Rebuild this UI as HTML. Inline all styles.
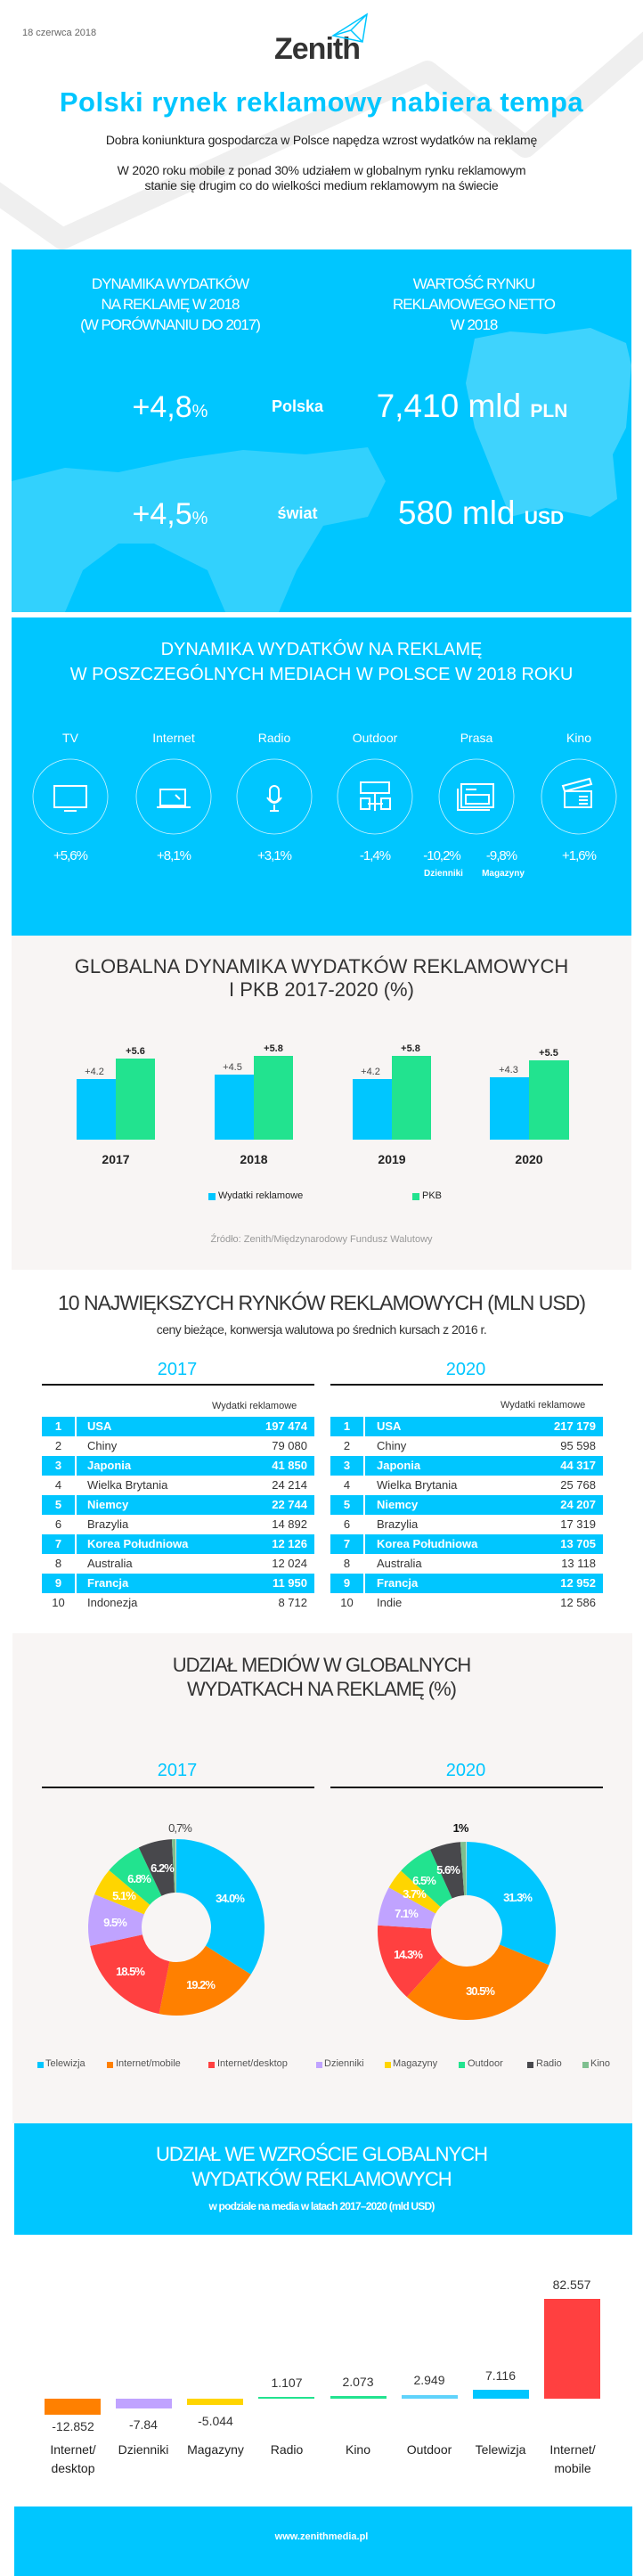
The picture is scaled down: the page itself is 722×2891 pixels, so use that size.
<!DOCTYPE html>
<html><head><meta charset="utf-8"><style>
*{margin:0;padding:0;box-sizing:border-box}
body{width:722px;height:2891px;position:relative;background:#fff;font-family:"Liberation Sans",sans-serif;overflow:hidden}
.a{position:absolute;white-space:nowrap}
.c{transform:translateX(-50%)}
.w{color:#fff}
.row{position:absolute;height:22px;font-size:13px;line-height:22px;color:#333}
.row.h{background:#00c6ff;color:#fff;font-weight:bold}
.row span{position:absolute}
.sep{position:absolute;top:0;width:2px;height:22px;background:#fff}
</style></head><body>

<svg class="a" style="left:0;top:0" width="722" height="290"><polyline points="-10,212 70,268 480,80 590,165 735,40" fill="none" stroke="#efefef" stroke-width="24" stroke-linejoin="round"/></svg>

<div class="a" style="left:25px;top:31px;font-size:11px;color:#666">18 czerwca 2018</div>
<div class="a c" style="left:356px;top:36px;font-size:34px;font-weight:bold;color:#333;letter-spacing:-1px">Zenith</div>
<svg class="a" style="left:372px;top:14px" width="44" height="36"><path d="M2,26 L40,2 L35,33 Z M40,2 L22,20 L35,33 M22,20 L2,26" fill="none" stroke="#00c6ff" stroke-width="1.5"/></svg>

<div class="a c" style="left:361px;top:97px;font-size:31px;font-weight:bold;color:#00c6ff;letter-spacing:0.5px">Polski rynek reklamowy nabiera tempa</div>
<div class="a c" style="left:361px;top:149px;font-size:14px;color:#222;letter-spacing:-0.2px">Dobra koniunktura gospodarcza w Polsce napędza wzrost wydatków na reklamę</div>
<div class="a c" style="left:361px;top:183px;font-size:14px;color:#222;text-align:center;line-height:17px;letter-spacing:-0.2px">W 2020 roku mobile z ponad 30% udziałem w globalnym rynku reklamowym<br>stanie się drugim co do wielkości medium reklamowym na świecie</div>

<!-- panel 1 -->
<div class="a" style="left:13px;top:280px;width:696px;height:407px;background:#00c6ff;overflow:hidden">
<svg width="696" height="407" style="position:absolute;left:0;top:0"><g fill="#3fd3fd">
<path d="M520,100 L560,92 L600,95 L650,88 L690,105 L696,130 L690,200 L675,230 L680,280 L650,300 L600,290 L560,300 L540,250 L520,200 L510,150 Z"/>
<path d="M0,260 L60,245 L120,250 L190,235 L260,225 L330,230 L400,222 L420,260 L400,300 L350,310 L320,360 L300,407 L240,407 L220,360 L160,330 L120,330 L80,360 L60,407 L0,407 Z" opacity="0.8"/>
</g></svg>
</div>
<div class="a c w" style="left:191px;top:307px;font-size:17px;line-height:23px;text-align:center;letter-spacing:-1px">DYNAMIKA WYDATKÓW<br>NA REKLAMĘ W 2018<br>(W PORÓWNANIU DO 2017)</div>
<div class="a c w" style="left:532px;top:307px;font-size:17px;line-height:23px;text-align:center;letter-spacing:-1px">WARTOŚĆ RYNKU<br>REKLAMOWEGO NETTO<br>W 2018</div>
<div class="a c w" style="left:191px;top:438px;font-size:34px">+4,8<span style="font-size:20px">%</span></div>
<div class="a c w" style="left:334px;top:446px;font-size:18px;font-weight:bold">Polska</div>
<div class="a c w" style="left:530px;top:435px;font-size:37px">7,410 mld <span style="font-size:21px;font-weight:bold">PLN</span></div>
<div class="a c w" style="left:191px;top:558px;font-size:34px">+4,5<span style="font-size:20px">%</span></div>
<div class="a c w" style="left:334px;top:566px;font-size:18px;font-weight:bold">świat</div>
<div class="a c w" style="left:540px;top:555px;font-size:37px">580 mld <span style="font-size:21px;font-weight:bold">USD</span></div>

<!-- panel 2 -->
<div class="a" style="left:13px;top:693px;width:696px;height:357px;background:#00c6ff"></div>
<div class="a c w" style="left:361px;top:715px;font-size:20px;line-height:28px;text-align:center">DYNAMIKA WYDATKÓW NA REKLAMĘ<br>W POSZCZEGÓLNYCH MEDIACH W POLSCE W 2018 ROKU</div>
<svg class="a" style="left:0;top:840px" width="722" height="110" fill="none" stroke="#fff">
<g stroke-width="0.8" opacity="0.8"><circle cx="79" cy="54" r="42"/><circle cx="195" cy="54" r="42"/><circle cx="308" cy="54" r="42"/><circle cx="421" cy="54" r="42"/><circle cx="535" cy="54" r="42"/><circle cx="650" cy="54" r="42"/></g>
<g stroke-width="2">
<rect x="61" y="42" width="36" height="24"/><path d="M72,70 h14"/>
<path d="M180,46 h28 v18 h-28 z M176,66 h38"/><path d="M197,52 l5,5"/>
<rect x="303" y="42" width="10" height="18" rx="5"/><path d="M300,55 q8,12 16,0 M308,63 v6 M303,70 h10"/>
<rect x="405" y="38" width="32" height="12"/><path d="M421,50 v20 M405,56 v12 h10 v-12 z M428,56 v12 h10 v-12 z M413,62 h17"/>
<rect x="518" y="40" width="36" height="26"/><path d="M514,45 v24 h36 M523,46 h12 M523,52 h26 v10 h-26 z"/>
<path d="M634,48 h30 v18 h-30 z M632,42 l30,-8 l2,6 l-30,8 z M650,54 h10 M650,58 h10 M650,62 h10"/>
</g></svg>
<div class="a c w" style="left:79px;top:820px;font-size:14px">TV</div>
<div class="a c w" style="left:195px;top:820px;font-size:14px">Internet</div>
<div class="a c w" style="left:308px;top:820px;font-size:14px">Radio</div>
<div class="a c w" style="left:421px;top:820px;font-size:14px">Outdoor</div>
<div class="a c w" style="left:535px;top:820px;font-size:14px">Prasa</div>
<div class="a c w" style="left:650px;top:820px;font-size:14px">Kino</div>
<div class="a c w" style="left:79px;top:952px;font-size:15px;letter-spacing:-1px">+5,6%</div>
<div class="a c w" style="left:195px;top:952px;font-size:15px;letter-spacing:-1px">+8,1%</div>
<div class="a c w" style="left:308px;top:952px;font-size:15px;letter-spacing:-1px">+3,1%</div>
<div class="a c w" style="left:421px;top:952px;font-size:15px;letter-spacing:-1px">-1,4%</div>
<div class="a c w" style="left:496px;top:952px;font-size:15px;letter-spacing:-1px">-10,2%</div>
<div class="a c w" style="left:563px;top:952px;font-size:15px;letter-spacing:-1px">-9,8%</div>
<div class="a c w" style="left:650px;top:952px;font-size:15px;letter-spacing:-1px">+1,6%</div>
<div class="a c w" style="left:498px;top:975px;font-size:10px;font-weight:bold">Dzienniki</div>
<div class="a c w" style="left:565px;top:975px;font-size:10px;font-weight:bold">Magazyny</div>

<!-- gray section bars -->
<div class="a" style="left:13px;top:1050px;width:696px;height:375px;background:#f8f5f4"></div>
<div class="a c" style="left:361px;top:1072px;font-size:22px;line-height:26px;text-align:center;color:#333">GLOBALNA DYNAMIKA WYDATKÓW REKLAMOWYCH<br>I PKB 2017-2020 (%)</div>
<svg class="a" style="left:0;top:1150px" width="722" height="140" font-family="Liberation Sans" font-size="11" text-anchor="middle">
<g fill="#00c6ff"><rect x="86" y="61" width="44" height="68"/><rect x="241" y="56" width="44" height="73"/><rect x="396" y="61" width="44" height="68"/><rect x="550" y="59" width="44" height="70"/></g>
<g fill="#22e38f"><rect x="130" y="38" width="44" height="91"/><rect x="285" y="35" width="44" height="94"/><rect x="440" y="35" width="44" height="94"/><rect x="594" y="40" width="45" height="89"/></g>
<g fill="#444"><text x="106" y="56">+4.2</text><text x="261" y="51">+4.5</text><text x="416" y="56">+4.2</text><text x="571" y="54">+4.3</text></g>
<g fill="#222" font-weight="bold"><text x="152" y="33">+5.6</text><text x="307" y="30">+5.8</text><text x="461" y="30">+5.8</text><text x="616" y="35">+5.5</text></g>
</svg>
<div class="a c" style="left:130px;top:1293px;font-size:14px;font-weight:bold;color:#222">2017</div>
<div class="a c" style="left:285px;top:1293px;font-size:14px;font-weight:bold;color:#222">2018</div>
<div class="a c" style="left:440px;top:1293px;font-size:14px;font-weight:bold;color:#222">2019</div>
<div class="a c" style="left:594px;top:1293px;font-size:14px;font-weight:bold;color:#222">2020</div>
<div class="a" style="left:234px;top:1339px;width:8px;height:8px;background:#00c6ff"></div>
<div class="a" style="left:245px;top:1336px;font-size:11px;color:#222">Wydatki reklamowe</div>
<div class="a" style="left:463px;top:1339px;width:8px;height:8px;background:#22e38f"></div>
<div class="a" style="left:474px;top:1336px;font-size:11px;color:#222">PKB</div>
<div class="a c" style="left:361px;top:1385px;font-size:11px;color:#999">Źródło: Zenith/Międzynarodowy Fundusz Walutowy</div>

<!-- table section -->
<div class="a c" style="left:361px;top:1449px;font-size:23px;color:#333;letter-spacing:-1px">10 NAJWIĘKSZYCH RYNKÓW REKLAMOWYCH (MLN USD)</div>
<div class="a c" style="left:361px;top:1484px;font-size:14px;color:#333;letter-spacing:-0.5px">ceny bieżące, konwersja walutowa po średnich kursach z 2016 r.</div>
<div class="a c" style="left:199px;top:1526px;font-size:20px;color:#00c6ff">2017</div>
<div class="a c" style="left:523px;top:1526px;font-size:20px;color:#00c6ff">2020</div>
<div class="a" style="left:47px;top:1553px;width:306px;height:1.5px;background:#111"></div>
<div class="a" style="left:371px;top:1553px;width:306px;height:1.5px;background:#111"></div>
<div class="a" style="left:238px;top:1572px;font-size:11px;color:#333">Wydatki reklamowe</div>
<div class="a" style="left:562px;top:1571px;font-size:11px;color:#333">Wydatki reklamowe</div>

<div class="a" style="left:47px;top:1590px;width:306px">
<div class="row h" style="top:0;width:306px"><span style="left:0;width:37px;text-align:center">1</span><div class="sep" style="left:37px"></div><span style="left:51px">USA</span><span style="right:8px">197 474</span></div>
<div class="row" style="top:22px;width:306px"><span style="left:0;width:37px;text-align:center">2</span><span style="left:51px">Chiny</span><span style="right:8px">79 080</span></div>
<div class="row h" style="top:44px;width:306px"><span style="left:0;width:37px;text-align:center">3</span><div class="sep" style="left:37px"></div><span style="left:51px">Japonia</span><span style="right:8px">41 850</span></div>
<div class="row" style="top:66px;width:306px"><span style="left:0;width:37px;text-align:center">4</span><span style="left:51px">Wielka Brytania</span><span style="right:8px">24 214</span></div>
<div class="row h" style="top:88px;width:306px"><span style="left:0;width:37px;text-align:center">5</span><div class="sep" style="left:37px"></div><span style="left:51px">Niemcy</span><span style="right:8px">22 744</span></div>
<div class="row" style="top:110px;width:306px"><span style="left:0;width:37px;text-align:center">6</span><span style="left:51px">Brazylia</span><span style="right:8px">14 892</span></div>
<div class="row h" style="top:132px;width:306px"><span style="left:0;width:37px;text-align:center">7</span><div class="sep" style="left:37px"></div><span style="left:51px">Korea Południowa</span><span style="right:8px">12 126</span></div>
<div class="row" style="top:154px;width:306px"><span style="left:0;width:37px;text-align:center">8</span><span style="left:51px">Australia</span><span style="right:8px">12 024</span></div>
<div class="row h" style="top:176px;width:306px"><span style="left:0;width:37px;text-align:center">9</span><div class="sep" style="left:37px"></div><span style="left:51px">Francja</span><span style="right:8px">11 950</span></div>
<div class="row" style="top:198px;width:306px"><span style="left:0;width:37px;text-align:center">10</span><span style="left:51px">Indonezja</span><span style="right:8px">8 712</span></div>
</div>
<div class="a" style="left:371px;top:1590px;width:306px">
<div class="row h" style="top:0;width:306px"><span style="left:0;width:37px;text-align:center">1</span><div class="sep" style="left:37px"></div><span style="left:52px">USA</span><span style="right:8px">217 179</span></div>
<div class="row" style="top:22px;width:306px"><span style="left:0;width:37px;text-align:center">2</span><span style="left:52px">Chiny</span><span style="right:8px">95 598</span></div>
<div class="row h" style="top:44px;width:306px"><span style="left:0;width:37px;text-align:center">3</span><div class="sep" style="left:37px"></div><span style="left:52px">Japonia</span><span style="right:8px">44 317</span></div>
<div class="row" style="top:66px;width:306px"><span style="left:0;width:37px;text-align:center">4</span><span style="left:52px">Wielka Brytania</span><span style="right:8px">25 768</span></div>
<div class="row h" style="top:88px;width:306px"><span style="left:0;width:37px;text-align:center">5</span><div class="sep" style="left:37px"></div><span style="left:52px">Niemcy</span><span style="right:8px">24 207</span></div>
<div class="row" style="top:110px;width:306px"><span style="left:0;width:37px;text-align:center">6</span><span style="left:52px">Brazylia</span><span style="right:8px">17 319</span></div>
<div class="row h" style="top:132px;width:306px"><span style="left:0;width:37px;text-align:center">7</span><div class="sep" style="left:37px"></div><span style="left:52px">Korea Południowa</span><span style="right:8px">13 705</span></div>
<div class="row" style="top:154px;width:306px"><span style="left:0;width:37px;text-align:center">8</span><span style="left:52px">Australia</span><span style="right:8px">13 118</span></div>
<div class="row h" style="top:176px;width:306px"><span style="left:0;width:37px;text-align:center">9</span><div class="sep" style="left:37px"></div><span style="left:52px">Francja</span><span style="right:8px">12 952</span></div>
<div class="row" style="top:198px;width:306px"><span style="left:0;width:37px;text-align:center">10</span><span style="left:52px">Indie</span><span style="right:8px">12 586</span></div>
</div>

<!-- donut section -->
<div class="a" style="left:14px;top:1833px;width:696px;height:550px;background:#f8f5f4"></div>
<div class="a c" style="left:361px;top:1855px;font-size:22px;line-height:27px;text-align:center;color:#333;letter-spacing:-1px">UDZIAŁ MEDIÓW W GLOBALNYCH<br>WYDATKACH NA REKLAMĘ (%)</div>
<div class="a c" style="left:199px;top:1976px;font-size:20px;color:#00c6ff">2017</div>
<div class="a c" style="left:523px;top:1976px;font-size:20px;color:#00c6ff">2020</div>
<div class="a" style="left:47px;top:2005px;width:306px;height:1.5px;background:#111"></div>
<div class="a" style="left:371px;top:2005px;width:306px;height:1.5px;background:#111"></div>

<svg class="a" style="left:0;top:2040px" width="722" height="240" font-family="Liberation Sans" font-size="13" font-weight="bold" text-anchor="middle" letter-spacing="-1">
<g transform="translate(198,123) rotate(-90)" fill="none" stroke-width="60">
<circle r="69" pathLength="100" stroke="#00c6ff" stroke-dasharray="34 100" stroke-dashoffset="0"/>
<circle r="69" pathLength="100" stroke="#ff8000" stroke-dasharray="19.2 100" stroke-dashoffset="-34"/>
<circle r="69" pathLength="100" stroke="#ff4040" stroke-dasharray="18.5 100" stroke-dashoffset="-53.2"/>
<circle r="69" pathLength="100" stroke="#c0a3ff" stroke-dasharray="9.5 100" stroke-dashoffset="-71.7"/>
<circle r="69" pathLength="100" stroke="#ffd500" stroke-dasharray="5.1 100" stroke-dashoffset="-81.2"/>
<circle r="69" pathLength="100" stroke="#22e38f" stroke-dasharray="6.8 100" stroke-dashoffset="-86.3"/>
<circle r="69" pathLength="100" stroke="#48484c" stroke-dasharray="6.2 100" stroke-dashoffset="-93.1"/>
<circle r="69" pathLength="100" stroke="#7fbf8f" stroke-dasharray="0.7 100" stroke-dashoffset="-99.3"/>
</g>
<g fill="#fff"><text x="258" y="95">34.0%</text><text x="225" y="192">19.2%</text><text x="146" y="177">18.5%</text><text x="129" y="122">9.5%</text><text x="139" y="92">5.1%</text><text x="156" y="73">6.8%</text><text x="182" y="61">6.2%</text></g>
<text x="202" y="16" fill="#444" font-weight="normal">0,7%</text>
<g transform="translate(524,127) rotate(-90)" fill="none" stroke-width="60">
<circle r="70" pathLength="100" stroke="#00c6ff" stroke-dasharray="31.3 100" stroke-dashoffset="0"/>
<circle r="70" pathLength="100" stroke="#ff8000" stroke-dasharray="30.5 100" stroke-dashoffset="-31.3"/>
<circle r="70" pathLength="100" stroke="#ff4040" stroke-dasharray="14.3 100" stroke-dashoffset="-61.8"/>
<circle r="70" pathLength="100" stroke="#c0a3ff" stroke-dasharray="7.1 100" stroke-dashoffset="-76.1"/>
<circle r="70" pathLength="100" stroke="#ffd500" stroke-dasharray="3.7 100" stroke-dashoffset="-83.2"/>
<circle r="70" pathLength="100" stroke="#22e38f" stroke-dasharray="6.5 100" stroke-dashoffset="-86.9"/>
<circle r="70" pathLength="100" stroke="#48484c" stroke-dasharray="5.6 100" stroke-dashoffset="-93.4"/>
<circle r="70" pathLength="100" stroke="#7fbf8f" stroke-dasharray="1 100" stroke-dashoffset="-99"/>
</g>
<g fill="#fff"><text x="581" y="94">31.3%</text><text x="539" y="199">30.5%</text><text x="458" y="158">14.3%</text><text x="456" y="112">7.1%</text><text x="465" y="90">3.7%</text><text x="476" y="75">6.5%</text><text x="503" y="63">5.6%</text></g>
<text x="517" y="16" fill="#111">1%</text>
</svg>

<div class="a" style="left:0;top:2310px;width:722px;font-size:11px;color:#555">
<span class="a" style="left:42px;top:4px;width:7px;height:7px;background:#00c6ff"></span><span class="a" style="left:51px;top:0">Telewizja</span>
<span class="a" style="left:120px;top:4px;width:7px;height:7px;background:#ff8000"></span><span class="a" style="left:130px;top:0">Internet/mobile</span>
<span class="a" style="left:234px;top:4px;width:7px;height:7px;background:#ff4040"></span><span class="a" style="left:244px;top:0">Internet/desktop</span>
<span class="a" style="left:355px;top:4px;width:7px;height:7px;background:#c0a3ff"></span><span class="a" style="left:364px;top:0">Dzienniki</span>
<span class="a" style="left:432px;top:4px;width:7px;height:7px;background:#ffd500"></span><span class="a" style="left:441px;top:0">Magazyny</span>
<span class="a" style="left:515px;top:4px;width:7px;height:7px;background:#22e38f"></span><span class="a" style="left:525px;top:0">Outdoor</span>
<span class="a" style="left:592px;top:4px;width:7px;height:7px;background:#48484c"></span><span class="a" style="left:602px;top:0">Radio</span>
<span class="a" style="left:654px;top:4px;width:7px;height:7px;background:#7fbf8f"></span><span class="a" style="left:663px;top:0">Kino</span>
</div>

<!-- growth section -->
<div class="a" style="left:16px;top:2383px;width:694px;height:125px;background:#00c6ff"></div>
<div class="a c w" style="left:361px;top:2404px;font-size:22px;line-height:28px;text-align:center;letter-spacing:-1px">UDZIAŁ WE WZROŚCIE GLOBALNYCH<br>WYDATKÓW REKLAMOWYCH</div>
<div class="a c w" style="left:361px;top:2469px;font-size:12px;font-weight:bold;letter-spacing:-0.8px">w podziale na media w latach 2017–2020 (mld USD)</div>

<svg class="a" style="left:0;top:2540px" width="722" height="240" font-family="Liberation Sans" font-size="14" text-anchor="middle" fill="#333">
<rect x="50" y="152" width="63" height="18" fill="#ff8000"/>
<rect x="130" y="152" width="63" height="11" fill="#c0a3ff"/>
<rect x="210" y="152" width="63" height="7" fill="#ffd500"/>
<rect x="290" y="150" width="63" height="2" fill="#22e38f"/>
<rect x="371" y="149" width="63" height="3" fill="#22e38f"/>
<rect x="451" y="148" width="63" height="4" fill="#5fd3fb"/>
<rect x="531" y="142" width="63" height="10" fill="#00c6ff"/>
<rect x="611" y="40" width="63" height="112" fill="#ff4040"/>
<text x="82" y="188">-12.852</text><text x="161" y="186">-7.84</text><text x="242" y="182">-5.044</text>
<text x="322" y="139">1.107</text><text x="402" y="138">2.073</text><text x="482" y="136">2.949</text><text x="562" y="131">7.116</text><text x="642" y="29">82.557</text>
<g font-size="14" fill="#222"><text x="82" y="214">Internet/</text><text x="82" y="235">desktop</text><text x="161" y="214">Dzienniki</text><text x="242" y="214">Magazyny</text><text x="322" y="214">Radio</text><text x="402" y="214">Kino</text><text x="482" y="214">Outdoor</text><text x="562" y="214">Telewizja</text><text x="643" y="214">Internet/</text><text x="643" y="235">mobile</text></g>
</svg>

<div class="a" style="left:16px;top:2813px;width:694px;height:78px;background:#00c6ff"></div>
<div class="a c w" style="left:361px;top:2841px;font-size:11px;font-weight:bold">www.zenithmedia.pl</div>
</body></html>
